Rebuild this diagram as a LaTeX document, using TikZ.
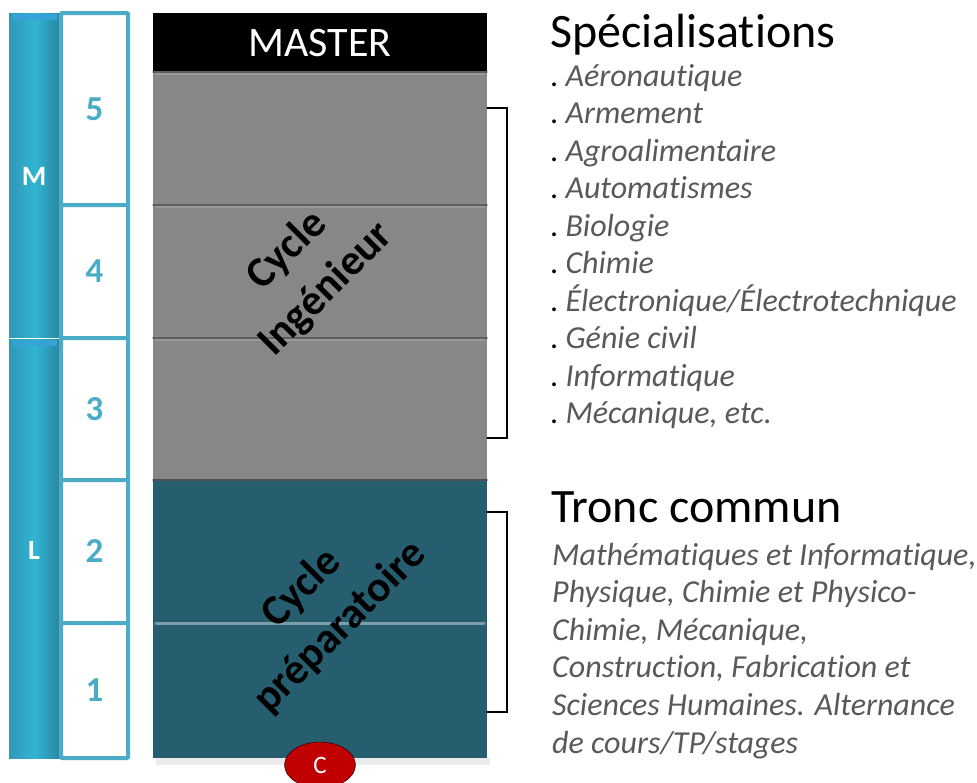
\documentclass[tikz,border=0pt]{standalone}
\usepackage{fontspec}
\setmainfont[Ligatures=NoCommon]{Carlito}
\usetikzlibrary{positioning, shapes.geometric}
\definecolor{color1}{RGB}{75,172,198}
\definecolor{color2}{RGB}{54,172,206}
\definecolor{color3}{RGB}{135,135,135}
\definecolor{color4}{RGB}{38,94,111}
\definecolor{color5}{RGB}{192,0,0}
\definecolor{color6}{RGB}{89,89,89}
\tikzset{
  yearbox/.style={draw=color1, line width=4pt, fill=white, rounded corners=1pt, minimum width=67, inner sep=0pt, text=color1, font=\bfseries\fontsize{35}{35}\selectfont},
  barlabel/.style={text=white, font=\bfseries\fontsize{28}{28}\selectfont},
  cycletext/.style={rotate=45, align=center, font=\bfseries\fontsize{43}{55}\selectfont},
  bracket/.style={draw=black, line width=1.2pt},
  title/.style={anchor=base west, inner sep=0pt, font=\fontsize{48}{48}\selectfont},
  item/.style={anchor=base west, inner sep=0pt, text=color6, font=\itshape\fontsize{32}{32}\selectfont},
}

\begin{document}
\begin{tikzpicture}[x=1pt, y=-1pt, line cap=round]
  \useasboundingbox (0,0) rectangle (977,782);

  % M and L bars
  \shade[left color=color2!88!black, right color=color2!78!black, middle color=color2!90!cyan] (9,13) rectangle (60,337);
  \shade[left color=color2!88!black, right color=color2!78!black, middle color=color2!90!cyan] (9,339) rectangle (60,758);
  \fill[cyan!45!color2] (12,14) rectangle (57,20);
  \fill[cyan!45!color2] (12,340) rectangle (57,346);
  \node[barlabel] (m) at (34,176) {M};
  \node[barlabel] (l) at (34,550) {L};

  % years
  \foreach \ya/\yb/\n [evaluate=\ya as \h using \yb-\ya, evaluate=\ya as \c using (\ya+\yb)/2] in {13/205/5, 205/338/4, 338/480/3, 480/623/2, 623/758/1}
    \node[yearbox, minimum height=\h] (y\n) at (94.5,\c) {\n};

  % central column
  \fill[black!8] (156,758) rectangle (490,765);
  \fill[black] (153,13) rectangle (487,72);
  \fill[color3] (153,72) rectangle (487,480);
  \fill[color4] (153,480) rectangle (487,758);
  \foreach \y in {72,205,338} {
    \draw[color3!70!black, line width=1.5pt] (153,\y) -- (487,\y);
    \draw[color3!85!white, line width=1.5pt] (156,\y+2) -- (484,\y+2);
  }
  \draw[color3!60!black, line width=1.5pt] (153,480) -- (487,480);
  \draw[color4!60!white, line width=3pt] (156,623) -- (484,623);

  \node[text=white, font=\fontsize{42}{42}\selectfont] (master) at (320,43) {MASTER};
  \node[cycletext] (ing) at (307,270) {Cycle\\Ingénieur};
  \node[cycletext] (prep) at (321,608) {Cycle\\préparatoire};
  \node[ellipse, draw=black, fill=color5, minimum width=71, minimum height=46, inner sep=0pt, text=white, font=\fontsize{25}{25}\selectfont] (c) at (320,765) {C};

  % brackets
  \coordinate (s top) at (487,108);
  \coordinate (s bot) at (487,438);
  \draw[bracket] (s top) -- ++(20,0) |- (s bot);
  \coordinate (t top) at (487,512);
  \coordinate (t bot) at (487,712);
  \draw[bracket] (t top) -- ++(20,0) |- (t bot);

  % specialisations
  \node[title] (spec) at (550,47) {Spécialisations};
  \foreach \t [count=\i] in {Aéronautique, Armement, Agroalimentaire, Automatismes, Biologie, Chimie, Électronique/Électrotechnique, Génie civil, Informatique, {Mécanique, etc.}}
    \node[item] (s\i) at (550,{86+37.5*(\i-1)}) {\textup{\color{black}.}\ \t};

  % tronc commun
  \node[title] (tronc) at (551,522) {Tronc commun};
  \foreach \t [count=\i] in {{Mathématiques et Informatique,}, {Physique, Chimie et Physico-}, {Chimie, Mécanique,}, {Construction, Fabrication et}, {Sciences Humaines. Alternance}, de cours/TP/stages}
    \node[item] (t\i) at (552,{565+37.6*(\i-1)}) {\t};
\end{tikzpicture}
\end{document}
